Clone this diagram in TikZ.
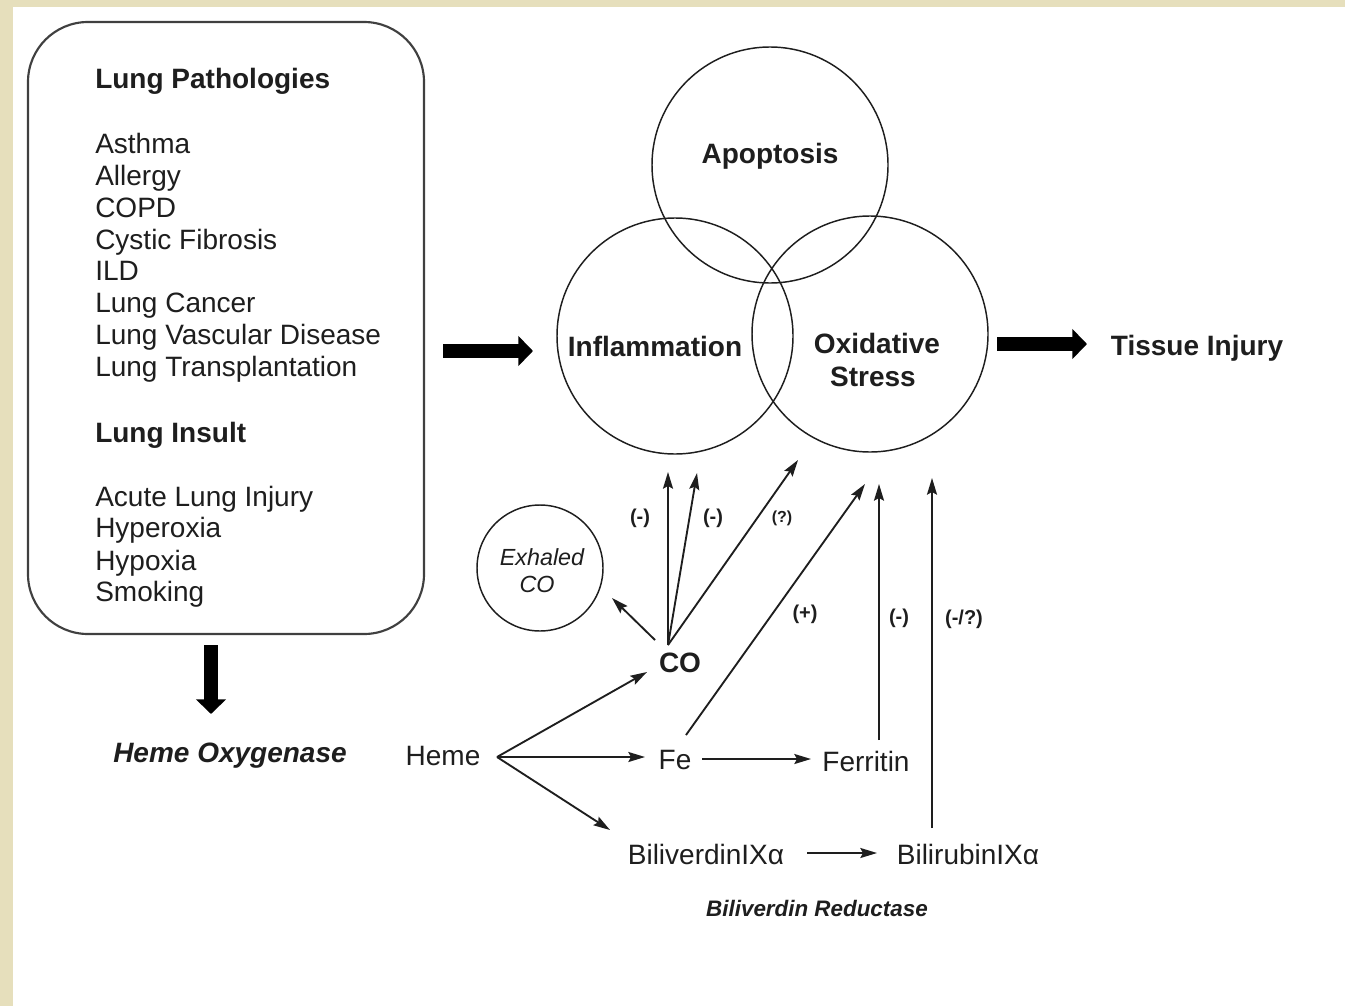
\documentclass[tikz,border=0pt]{standalone}
\usepackage{fontspec}
\setmainfont{Liberation Sans}
\usetikzlibrary{arrows.meta}
\definecolor{parch}{RGB}{230,223,188}
\definecolor{ink}{RGB}{30,30,30}
\tikzset{
  txt/.style={anchor=base, inner sep=0pt, text=ink, font=\fontsize{21}{24}\selectfont},
  btxt/.style={txt, font=\fontsize{21}{24}\selectfont\bfseries},
  ltxt/.style={anchor=base west, inner sep=0pt, text=ink, font=\fontsize{21}{24}\selectfont},
  lbl/.style={anchor=base, inner sep=0pt, text=ink, font=\fontsize{15}{18}\selectfont\bfseries},
  thin/.style={draw=ink, line width=1.4pt, -{Stealth[length=12.5pt,width=7.5pt,inset=2pt]}},
  fat/.style={draw=black, line width=11pt, -{Triangle[length=11pt,width=22pt]}},
  ring/.style={draw=ink, line width=1.1pt, circle, inner sep=0pt},
}
\begin{document}
\begin{tikzpicture}[x=0.75pt,y=-0.75pt]
\useasboundingbox (0,0) rectangle (1345,1006);
\fill[parch] (0,0) rectangle (1345,1006);
\fill[white] (13,7) rectangle (1345,1006);
% left box
\draw[draw=ink!85, line width=1.6pt, rounded corners=45pt] (28,22) rectangle (424,634);
\node[ltxt, font=\fontsize{21}{24}\selectfont\bfseries] (lp) at (95,89) {Lung Pathologies};
\foreach \t/\yy [count=\i] in {Asthma/153, Allergy/185, COPD/217, Cystic Fibrosis/249, ILD/280, Lung Cancer/312, Lung Vascular Disease/344, Lung Transplantation/376}
  \node[ltxt] (p\i) at (95,\yy) {\t};
\node[ltxt, font=\fontsize{21}{24}\selectfont\bfseries] (li) at (95,442) {Lung Insult};
\foreach \t/\yy [count=\i] in {Acute Lung Injury/506, Hyperoxia/537, Hypoxia/570, Smoking/601}
  \node[ltxt] (q\i) at (95,\yy) {\t};
% circles
\node[ring, minimum size=236pt*0.75] (apo) at (770,165) {};
\node[ring, minimum size=236pt*0.75] (inf) at (675,336) {};
\node[ring, minimum size=236pt*0.75] (oxs) at (870,334) {};
\node[btxt] (apot) at (770,163) {Apoptosis};
\node[btxt] (inft) at (655,356) {Inflammation};
\node[btxt] (oxt1) at (877,353) {Oxidative};
\node[btxt] (oxt2) at (873,386) {Stress};
\node[btxt] (ti) at (1197,355) {Tissue Injury};
% thick arrows
\coordinate (f1s) at (443,351); \coordinate (f1e) at (533,351);
\coordinate (f2s) at (997,344); \coordinate (f2e) at (1087,344);
\coordinate (f3s) at (211,645); \coordinate (f3e) at (211,714);
\draw[fat] (f1s) -- (f1e);
\draw[fat] (f2s) -- (f2e);
\draw[fat] (f3s) -- (f3e);
\node[txt, font=\fontsize{21}{24}\selectfont\bfseries\itshape] (ho) at (230,762) {Heme Oxygenase};
% exhaled CO
\node[ring, minimum size=126pt*0.75] (exh) at (540,568) {};
\node[txt, font=\fontsize{17.5}{20}\selectfont\itshape] (ext1) at (542,565) {Exhaled};
\node[txt, font=\fontsize{17.5}{20}\selectfont\itshape] (ext2) at (537,592) {CO};
% pathway nodes
\node[btxt] (co) at (680,672) {CO};
\node[txt] (heme) at (443,765) {Heme};
\node[txt] (fe) at (675,769) {Fe};
\node[txt] (fer) at (866,771) {Ferritin};
\node[txt] (bv) at (706,864) {BiliverdinIXα};
\node[txt] (br) at (968,864) {BilirubinIXα};
\node[txt, font=\fontsize{16.8}{20}\selectfont\bfseries\itshape] (bvr) at (817,916) {Biliverdin Reductase};
% connector coordinates
\coordinate (cot) at (668,645);
\coordinate (coex) at (655,640);
\coordinate (t1) at (668,472);
\coordinate (t2) at (697,473);
\coordinate (t3) at (798,460);
\coordinate (exin) at (612,598);
\coordinate (hv) at (497,757);
\coordinate (coin) at (647,672);
\coordinate (fein) at (645,757);
\coordinate (bvin) at (610,830);
\coordinate (feout) at (702,759);
\coordinate (ferin) at (811,759);
\coordinate (feup) at (686,735);
\coordinate (t4) at (865,484);
\coordinate (ferup) at (879,740);
\coordinate (t5) at (879,484);
\coordinate (brup) at (932,828);
\coordinate (t6) at (932,478);
\coordinate (bvout) at (807,853);
\coordinate (brin) at (877,853);
\draw[thin] (cot) -- (t1);
\draw[thin] (cot) -- (t2);
\draw[thin] (cot) -- (t3);
\draw[thin] (coex) -- (exin);
\draw[thin] (hv) -- (coin);
\draw[thin] (hv) -- (fein);
\draw[thin] (hv) -- (bvin);
\draw[thin] (feout) -- (ferin);
\draw[thin] (feup) -- (t4);
\draw[thin] (ferup) -- (t5);
\draw[thin] (brup) -- (t6);
\draw[thin] (bvout) -- (brin);
% labels
\node[lbl] (l1) at (640,523) {(-)};
\node[lbl] (l2) at (713,523) {(-)};
\node[lbl, font=\fontsize{12}{14}\selectfont\bfseries] (l3) at (782,522) {(?)};
\node[lbl] (l4) at (805,619) {(+)};
\node[lbl] (l5) at (899,623) {(-)};
\node[lbl] (l6) at (964,624) {(-/?)};
\end{tikzpicture}
\end{document}
